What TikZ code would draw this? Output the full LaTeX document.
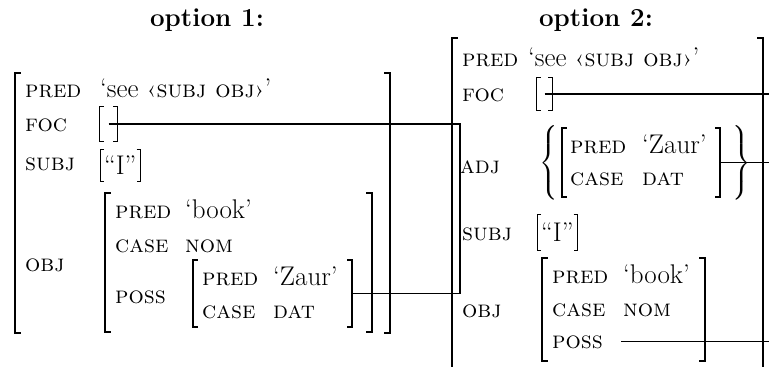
\documentclass[tikz,border=0pt]{standalone}
\usepackage{amsmath}
\usetikzlibrary{fit}

% square brackets round an f-structure node, with short end ticks
\newcommand{\fsbrackets}[3][thick]{%
  \draw[#1] ([xshift=#3]#2.north west) -| (#2.south west) -- ++(#3,0)
            ([xshift=-#3]#2.north east) -| (#2.south east) -- ++(-#3,0);}
% attribute names in small caps
\newcommand{\fsattr}[1]{{\fontsize{24}{28}\selectfont\scshape #1}}

\begin{document}
\begin{tikzpicture}[x=1pt, y=-1pt,
    lbl/.style={font=\fontsize{24}{28}\selectfont\scshape, anchor=base west, inner sep=0pt},
    val/.style={font=\fontsize{27}{32}\selectfont, anchor=base west, inner sep=0pt},
    title/.style={font=\fontsize{26}{31}\selectfont\bfseries},
    box/.style={inner sep=0pt},
    brace/.style={font=\fontsize{21}{25}\selectfont, inner sep=0pt},
    link/.style={line width=1.1pt}]
  \useasboundingbox (0,0) rectangle (769,367);
  \clip (0,0) rectangle (769,367);

  % Option 1: possessor inside the object, linked to the focus
  \node[title] (head1) at (207,20) {option 1:};
  \node[box, fit={(15,73) (390,333)}] (fs1) {};
  \fsbrackets[line width=2pt]{fs1}{6}
  \node[lbl] (pred1) at (25,97) {pred};
  \node[val] (see1) at (100,97) {‘see \fsattr{‹subj obj›}’};
  \node[lbl] (foc1l) at (25,131) {foc};
  \node[box, minimum width=17, minimum height=34] (foc1) at (108.5,124) {};
  \fsbrackets[line width=1pt]{foc1}{4}
  \node[lbl] (subj1l) at (25,170) {subj};
  \node[val, anchor=west, inner xsep=4pt, minimum height=31] (subj1) at (100,165.5) {“I”};
  \fsbrackets[line width=1pt]{subj1}{4}
  \node[lbl] (obj1l) at (25,271) {obj};
  \node[box, fit={(105,193) (372,332)}] (obj1) {};
  \fsbrackets[line width=2pt]{obj1}{6}
  \node[lbl] (pred1b) at (115,218) {pred};
  \node[val] (book1) at (185,218) {‘book’};
  \node[lbl] (case1b) at (115,252) {case};
  \node[lbl] (nom1) at (185,252) {nom};
  \node[lbl] (poss1) at (115,303) {poss};
  \node[box, fit={(193,260) (352,327)}] (zaur1) {};
  \fsbrackets[line width=1.6pt]{zaur1}{5}
  \node[lbl] (pred1c) at (202,285) {pred};
  \node[val] (name1) at (273,285) {‘Zaur’};
  \node[lbl] (case1c) at (202,318) {case};
  \node[lbl] (dat1) at (273,318) {dat};

  % focus shares the possessor
  \coordinate (bend1) at (460,125);
  \draw[link] (foc1.center) -- (foc1.center -| bend1) |- (zaur1.east);

  % Option 2: possessor as an adjunct
  \node[title] (head2) at (596,20) {option 2:};
  \node[box, fit={(452,38) (763,400)}] (fs2) {};
  \fsbrackets[line width=2pt]{fs2}{6}
  \node[lbl] (pred2) at (462,66) {pred};
  \node[val] (see2) at (528,66) {‘see \fsattr{‹subj obj›}’};
  \node[lbl] (foc2l) at (462,101) {foc};
  \node[box, minimum width=15, minimum height=32] (foc2) at (544.5,94) {};
  \fsbrackets[line width=1pt]{foc2}{4}
  \node[lbl] (adj2l) at (460,173) {adj};
  \node[box, fit={(562,128) (720,197)}] (zaur2) {};
  \fsbrackets[line width=1.6pt]{zaur2}{5}
  \node[lbl] (pred2c) at (570,153) {pred};
  \node[val] (name2) at (642,153) {‘Zaur’};
  \node[lbl] (case2c) at (570,185) {case};
  \node[lbl] (dat2) at (642,185) {dat};
  \node[brace, anchor=west] (adjopen) at (539,163) {$\left\{\vcenter{\hrule height 78pt width 0pt}\right.$};
  \node[brace, anchor=east] (adjclose) at (751,163) {$\left.\vcenter{\hrule height 78pt width 0pt}\right\}$};
  \node[lbl] (subj2l) at (462,240) {subj};
  \node[val, anchor=west, inner xsep=4pt, minimum height=35] (subj2) at (537,232.5) {“I”};
  \fsbrackets[line width=1pt]{subj2}{4}
  \node[lbl] (obj2l) at (462,317) {obj};
  \node[box, fit={(542,258) (705,361)}] (obj2) {};
  \fsbrackets[line width=2pt]{obj2}{6}
  \node[lbl] (pred2b) at (552,283) {pred};
  \node[val] (book2) at (623,283) {‘book’};
  \node[lbl] (case2b) at (552,316) {case};
  \node[lbl] (nom2) at (623,316) {nom};
  \node[lbl] (poss2) at (552,348) {poss};

  % links running off to the right
  \coordinate (rim) at (800,0);
  \draw[link] (foc2.center) -- (foc2.center -| rim);
  \draw[link] (zaur2.east) -- (zaur2.east -| rim);
  \draw[link] ([xshift=18pt]poss2.east) -- (poss2.east -| rim);
\end{tikzpicture}
\end{document}
